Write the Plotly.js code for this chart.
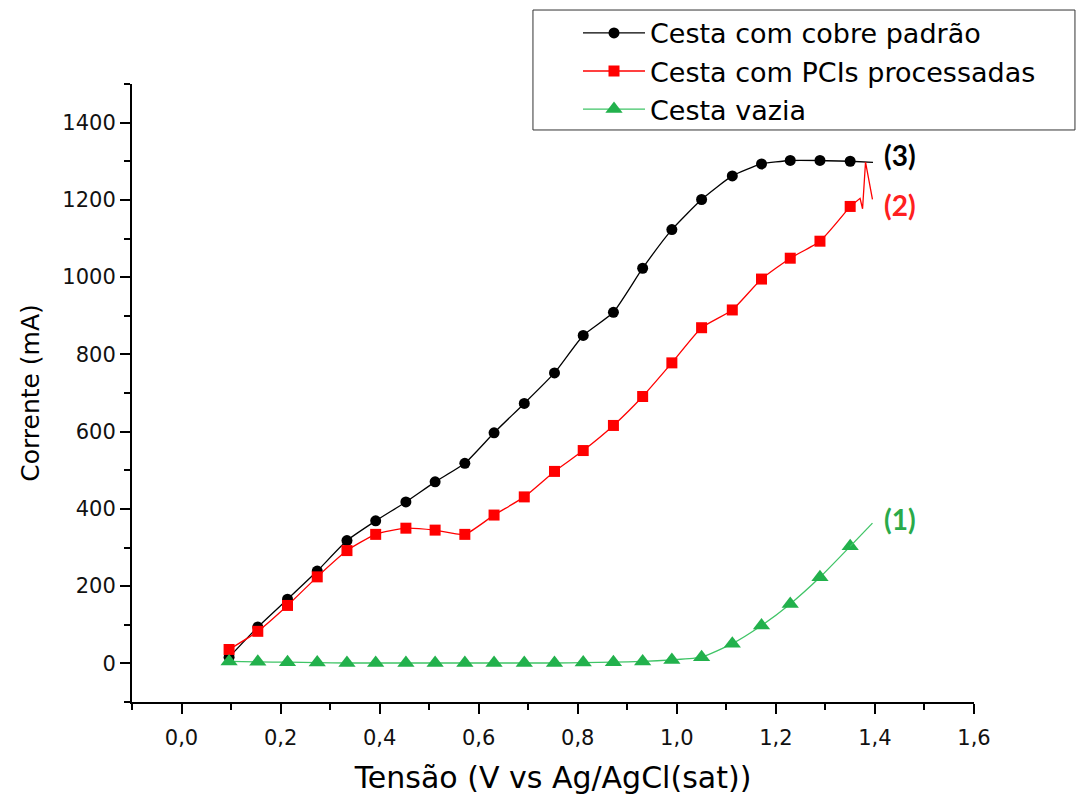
<!DOCTYPE html>
<html>
<head>
<meta charset="utf-8">
<script src="https://cdn.plot.ly/plotly-3.0.1.min.js"></script>
<style>
  html, body { margin: 0; padding: 0; background: #ffffff; }
  #chart { width: 1092px; height: 796px; }
</style>
</head>
<body>
<div id="chart"></div>
<script>
// Potential (V vs Ag/AgCl sat) at the sampled points
const voltage = [0.096, 0.154, 0.214, 0.274, 0.334, 0.392, 0.453, 0.512, 0.572, 0.631, 0.692,
                 0.753, 0.811, 0.872, 0.931, 0.990, 1.050, 1.112, 1.171, 1.229, 1.289, 1.350];

// Current (mA) for each basket condition
const currentCopper = [16, 94, 166, 239, 318, 369, 418, 470, 518, 597, 673,
                       752, 849, 909, 1023, 1123, 1201, 1262, 1293, 1302, 1302, 1300];
const currentPCI    = [36, 83, 150, 224, 292, 334, 350, 345, 334, 384, 431,
                       497, 551, 616, 691, 778, 869, 915, 995, 1049, 1093, 1183];
const currentEmpty  = [5, 4, 3, 2, 1, 1, 1, 1, 1, 1, 1,
                       1, 2, 3, 5, 9, 16, 51, 98, 154, 223, 303];

// Final readings recorded after the last sampled point
const copperTailV = [1.396];
const copperTailI = [1297];
const pciTailV = [1.370, 1.375, 1.381, 1.395];
const pciTailI = [1204, 1177, 1298, 1201];
const emptyTailV = [1.395];
const emptyTailI = [363];

const seriesNames = ['Cesta com cobre padrão', 'Cesta com PCIs processadas', 'Cesta vazia'];
const curveLabels = ['(3)', '(2)', '(1)'];

const BLACK = '#000000';
const RED = '#ff0000';
const GREEN = '#22b14c';
const GREEN_LINE = '#3fc466';

const last = voltage.length - 1;

function tail(vs, is, yLast, color) {
  return {
    x: [voltage[last]].concat(vs),
    y: [yLast].concat(is),
    mode: 'lines',
    showlegend: false,
    hoverinfo: 'skip',
    line: { color: color, width: 1.3 }
  };
}

const traces = [
  {
    x: voltage, y: currentCopper, name: seriesNames[0], mode: 'lines+markers',
    line: { color: BLACK, width: 1.3, shape: 'spline', smoothing: 0.5 },
    marker: { symbol: 'circle', size: 11, color: BLACK }
  },
  tail(copperTailV, copperTailI, currentCopper[last], BLACK),
  {
    x: voltage, y: currentPCI, name: seriesNames[1], mode: 'lines+markers',
    line: { color: RED, width: 1.3, shape: 'spline', smoothing: 0.5 },
    marker: { symbol: 'square', size: 11, color: RED }
  },
  tail(pciTailV, pciTailI, currentPCI[last], RED),
  {
    x: voltage, y: currentEmpty, name: seriesNames[2], mode: 'lines+markers',
    line: { color: GREEN_LINE, width: 1.3, shape: 'spline', smoothing: 0.5 },
    marker: { symbol: 'triangle-up', size: 15, color: GREEN }
  },
  tail(emptyTailV, emptyTailI, currentEmpty[last], GREEN_LINE)
];

const axisCommon = {
  showline: true, linewidth: 2, linecolor: BLACK,
  showgrid: false, zeroline: false,
  ticks: 'outside', ticklen: 10, tickwidth: 2, tickcolor: BLACK,
  tickfont: { family: 'DejaVu Sans, Arial, sans-serif', size: 21, color: '#111111' }
};

const layout = {
  width: 1092, height: 796,
  paper_bgcolor: '#ffffff', plot_bgcolor: '#ffffff',
  separators: ',.',
  margin: { l: 132, r: 118, t: 84, b: 94, autoexpand: false },
  font: { family: 'DejaVu Sans, Arial, sans-serif', color: BLACK },
  xaxis: Object.assign({}, axisCommon, {
    range: [-0.1, 1.6], tick0: 0, dtick: 0.2, tickformat: '.1f',
    ticklabelstandoff: 6,
    minor: { dtick: 0.1, tick0: 0, ticks: 'outside', ticklen: 6, tickwidth: 2, tickcolor: BLACK, showgrid: false },
    title: { text: 'Tensão (V vs Ag/AgCl(sat))', font: { size: 30, color: BLACK }, standoff: 18 }
  }),
  yaxis: Object.assign({}, axisCommon, {
    range: [-100, 1500], tick0: 0, dtick: 200,
    minor: { dtick: 100, tick0: 0, ticks: 'outside', ticklen: 6, tickwidth: 2, tickcolor: BLACK, showgrid: false },
    title: { text: 'Corrente (mA)', font: { size: 25, color: BLACK }, standoff: 16 }
  }),
  legend: {
    x: 0.5297, y: 1.1216, xanchor: 'left', yanchor: 'top',
    bgcolor: 'rgba(0,0,0,0)', borderwidth: 0,
    font: { family: 'DejaVu Sans, Arial, sans-serif', size: 27, color: BLACK },
    itemwidth: 62
  },
  // frame drawn around the legend entries
  shapes: [
    { type: 'rect', xref: 'paper', yref: 'paper', x0: 0.4762, x1: 1.1199, y0: 0.9256, y1: 1.1197,
      line: { color: '#333333', width: 1 }, fillcolor: 'rgba(0,0,0,0)', layer: 'above' }
  ],
  annotations: [
    { x: 1.45, y: 1317, text: '<b>' + curveLabels[0] + '</b>', font: { family: 'Lato, sans-serif', size: 28, color: BLACK } },
    { x: 1.45, y: 1187, text: '<b>' + curveLabels[1] + '</b>', font: { family: 'Lato, sans-serif', size: 28, color: '#ff2020' } },
    { x: 1.45, y: 375, text: '<b>' + curveLabels[2] + '</b>', font: { family: 'Lato, sans-serif', size: 28, color: '#2aaa4a' } }
  ].map(a => Object.assign({ xref: 'x', yref: 'y', showarrow: false }, a))
};

Plotly.newPlot('chart', traces, layout, { displayModeBar: false, staticPlot: true });
</script>
</body>
</html>
